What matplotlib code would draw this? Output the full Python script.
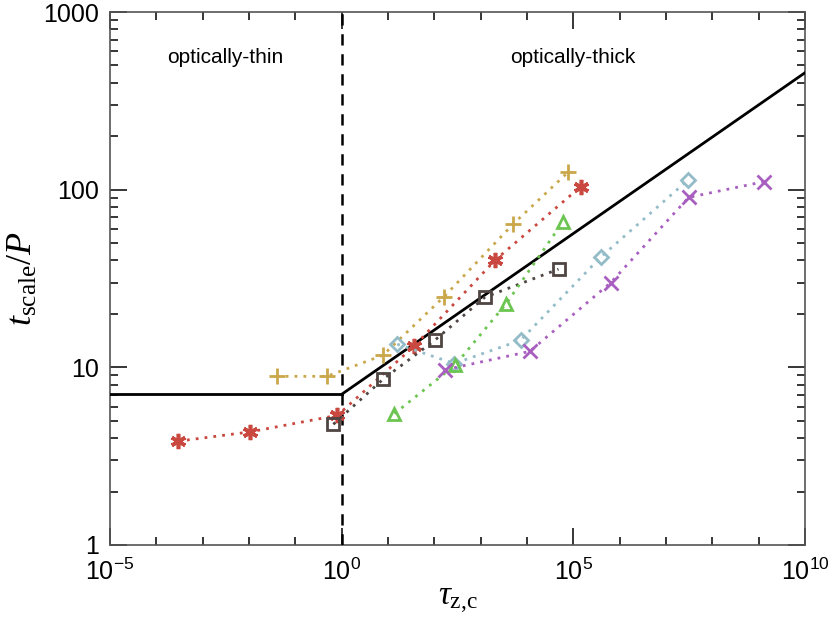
import numpy as np
import matplotlib
matplotlib.use("Agg")
import matplotlib.pyplot as plt
from matplotlib.ticker import LogLocator, FixedLocator, FixedFormatter, NullFormatter

plt.rcParams['mathtext.fontset'] = 'custom'
plt.rcParams['mathtext.rm'] = 'Liberation Serif'
plt.rcParams['mathtext.it'] = 'Liberation Serif:italic'
plt.rcParams['mathtext.sf'] = 'Liberation Sans'
plt.rcParams['font.family'] = ['Liberation Sans', 'DejaVu Sans']

# ---- data ----
gold_tau = [10**-1.40, 10**-0.32, 10**0.89, 10**2.21, 10**3.70, 10**4.88]
gold_t = [8.9, 8.9, 11.7, 25.0, 64.0, 125.0]

red_tau = [10**-3.53, 10**-1.98, 10**-0.09, 10**1.57, 10**3.32, 10**5.16]
red_t = [3.84, 4.33, 5.37, 13.2, 40.3, 104.0]

dark_tau = [10**-0.18, 10**0.90, 10**2.01, 10**3.09, 10**4.68]
dark_t = [4.78, 8.6, 14.2, 24.8, 35.7]

blue_tau = [10**1.20, 10**2.43, 10**3.86, 10**5.59, 10**7.47]
blue_t = [13.5, 10.5, 14.2, 41.7, 113.0]

green_tau = [10**1.14, 10**2.45, 10**3.55, 10**4.77]
green_t = [5.49, 10.3, 22.8, 65.5]

purple_tau = [10**2.24, 10**4.06, 10**5.81, 10**7.49, 10**9.12]
purple_t = [9.7, 12.3, 30.0, 90.5, 111.0]

model_t0 = 7.05
model_slope = 0.181

xticks = [1e-5, 1e0, 1e5, 1e10]
xticklabels = [r'$\mathsf{10^{-5}}$', r'$\mathsf{10^{0}}$', r'$\mathsf{10^{5}}$', r'$\mathsf{10^{10}}$']
yticks = [1, 10, 100, 1000]
yticklabels = ['1', '10', '100', '1000']

fig = plt.figure(figsize=(8.3, 6.24), dpi=100)
ax = fig.add_axes([110/830, 79/624, 695/830, 533/624])

# model line
tau_thin = np.array([1e-5, 1.0])
tau_thick = np.logspace(0, 10, 50)
ax.plot(tau_thin, [model_t0, model_t0], color='black', lw=2.0, zorder=3)
ax.plot(tau_thick, model_t0 * tau_thick**model_slope, color='black', lw=2.0, zorder=3)
ax.axvline(1.0, color='black', lw=1.8, ls=(0, (4.5, 3.5)), zorder=3)

dot = (0, (1, 2.2))
ax.plot(gold_tau, gold_t, color='#C9A74A', ls=dot, lw=2, marker='+', ms=11, mew=2, zorder=4)
ax.plot(red_tau, red_t, color='#C9483F', ls=dot, lw=2, marker=(6, 2, 0), ms=11, mew=2.6, zorder=4)
ax.plot(dark_tau, dark_t, color='#4F4543', ls=dot, lw=2, marker='s', ms=9, mew=2,
        mfc='none', zorder=4)
ax.plot(blue_tau, blue_t, color='#93BCC8', ls=dot, lw=2, marker='D', ms=7, mew=2,
        mfc='none', zorder=4)
ax.plot(green_tau, green_t, color='#6CC551', ls=dot, lw=2, marker='^', ms=9, mew=2,
        mfc='none', zorder=4)
ax.plot(purple_tau, purple_t, color='#A95FBF', ls=dot, lw=2, marker='x', ms=10, mew=2, zorder=4)

ax.set_xscale('log')
ax.set_yscale('log')
ax.set_xlim(1e-5, 1e10)
ax.set_ylim(1, 1000)

ax.xaxis.set_major_locator(FixedLocator(xticks))
ax.xaxis.set_major_formatter(FixedFormatter(xticklabels))
ax.xaxis.set_minor_locator(FixedLocator([10.0**k for k in range(-5, 11)]))
ax.xaxis.set_minor_formatter(NullFormatter())
ax.yaxis.set_major_locator(FixedLocator(yticks))
ax.yaxis.set_major_formatter(FixedFormatter(yticklabels))
ax.yaxis.set_minor_locator(LogLocator(base=10, subs=np.arange(2, 10), numticks=20))
ax.yaxis.set_minor_formatter(NullFormatter())

ax.tick_params(which='both', direction='in', top=True, right=True, colors='black',
               labelsize=18, width=1.1)
ax.tick_params(which='major', length=12)
ax.tick_params(axis='y', which='major', pad=8)
ax.tick_params(axis='x', which='major', pad=10)
ax.tick_params(which='minor', length=6)
for s in ax.spines.values():
    s.set_linewidth(1.2)
    s.set_color('#555555')

ax.set_xlabel(r'$\tau_{\rm z{,}c}$', fontsize=24, labelpad=0)
ax.set_ylabel(r'$t_{\rm scale}/P$', fontsize=26, labelpad=2)

ax.text(10**((225-110)/46.34 - 5), 10**((545-57)/178), 'optically-thin',
        ha='center', va='center', fontsize=15)
ax.text(10**((573-110)/46.34 - 5), 10**((545-57)/178), 'optically-thick',
        ha='center', va='center', fontsize=15)

fig.savefig('out.png', dpi=100)
